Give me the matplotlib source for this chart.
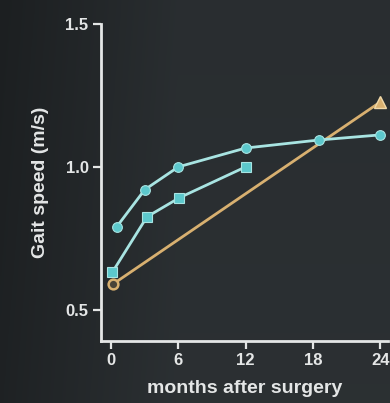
import numpy as np
import matplotlib
matplotlib.use("Agg")
import matplotlib.pyplot as plt

# data
upper_months = [0.5, 3, 6, 12, 18.5, 24]
upper_speed = [0.79, 0.92, 1.0, 1.066, 1.094, 1.112]

lower_months = [0.1, 3.2, 6.1, 12]
lower_speed = [0.63, 0.825, 0.892, 1.0]

ref_months = [0.2, 24]
ref_speed = [0.59, 1.227]

x_ticks = [0, 6, 12, 18, 24]
y_ticks = [0.5, 1.0, 1.5]

TEAL = "#5cc8cc"
TEAL_EDGE = "#a8e4e2"
TAN = "#d8b070"
AXIS = "#e4e6e6"

plt.rcParams["font.family"] = ["Liberation Sans", "DejaVu Sans"]

fig = plt.figure(figsize=(3.9, 4.03), dpi=100)

# dark chalkboard-like background (darker at left)
bg = fig.add_axes([0, 0, 1, 1], zorder=-10)
gx = np.linspace(0, 1, 200)
gy = np.linspace(0, 1, 200)
X, Y = np.meshgrid(gx, gy)
shade = 0.13 + 0.055 * np.clip(X * 2.2, 0, 1) - 0.01 * Y
img = np.dstack([shade * 0.92, shade * 1.02, shade * 1.08])
bg.imshow(np.clip(img, 0, 1), extent=[0, 1, 0, 1], aspect="auto", origin="lower")
bg.axis("off")

ax = fig.add_axes([0.259, 0.154, 0.736, 0.786])
ax.patch.set_alpha(0)

ax.plot(ref_months, ref_speed, color=TAN, lw=2, zorder=2)
ax.plot(ref_months[0], ref_speed[0], "o", ms=7, mfc="#4a4438", mec=TAN, mew=1.8, zorder=3)
ax.plot(ref_months[1], ref_speed[1], "^", ms=8, mfc=TAN, mec="#f0d8a8", mew=1, zorder=3)

ax.plot(upper_months, upper_speed, color=TEAL_EDGE, lw=2, zorder=4)
ax.plot(upper_months, upper_speed, "o", ms=7, mfc=TEAL, mec=TEAL_EDGE, mew=0.8, zorder=5)

ax.plot(lower_months, lower_speed, color=TEAL_EDGE, lw=2, zorder=4)
ax.plot(lower_months, lower_speed, "s", ms=6.5, mfc=TEAL, mec=TEAL_EDGE, mew=0.8, zorder=5)

ax.set_xlim(-0.9, 24.7)
ax.set_ylim(0.39, 1.5)
ax.set_xticks(x_ticks)
ax.set_yticks(y_ticks)
ax.set_yticklabels(["0.5", "1.0", "1.5"])

for side in ["top", "right"]:
    ax.spines[side].set_visible(False)
for side in ["left", "bottom"]:
    ax.spines[side].set_color(AXIS)
    ax.spines[side].set_linewidth(2)
ax.spines["left"].set_bounds(0.39, 1.5)

ax.tick_params(colors=AXIS, width=1.6, length=6, labelsize=12, pad=3)
for lab in ax.get_xticklabels() + ax.get_yticklabels():
    lab.set_fontweight("bold")
    lab.set_color(AXIS)

ax.set_xlabel("months after surgery", color=AXIS, fontsize=14, fontweight="bold", labelpad=8)
ax.set_ylabel("Gait speed (m/s)", color=AXIS, fontsize=14, fontweight="bold", labelpad=12)

fig.savefig("out.png", dpi=100)
